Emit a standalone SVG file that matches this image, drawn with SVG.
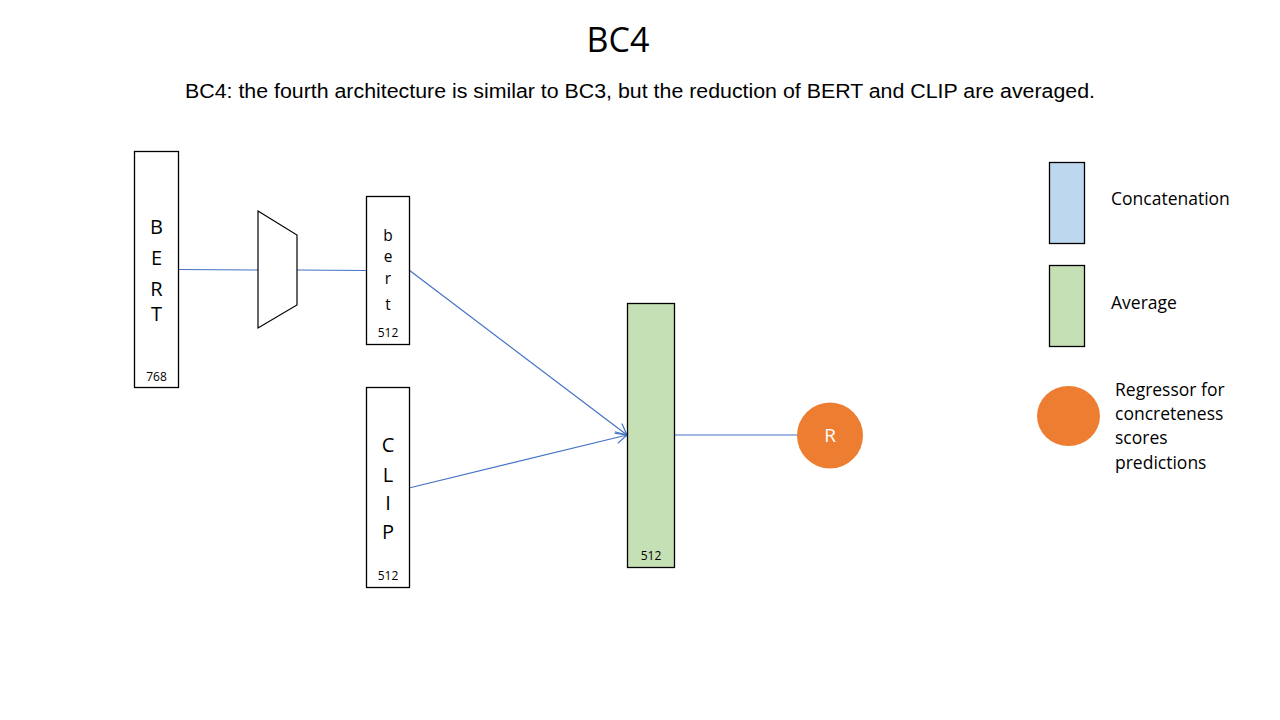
<svg xmlns="http://www.w3.org/2000/svg" width="1280" height="720" viewBox="0 0 1280 720">
<style>
.box{fill:#fff;stroke:#000;stroke-width:1.3}
.avg{fill:#C5E0B4;stroke:#000;stroke-width:1.3}
.cat{fill:#BDD7EE;stroke:#000;stroke-width:1.3}
.t{font-family:"Open Sans","Liberation Sans",sans-serif;fill:#000}
.big{font-size:20px;text-anchor:middle}
.mid{font-size:15.5px;text-anchor:middle}
.small{font-size:12px;text-anchor:middle}
.leg{font-size:17.5px}
.conn{stroke:#4472C4;stroke-width:1.2;fill:none}
</style>
<defs>
<marker id="arr" markerWidth="14" markerHeight="14" refX="12" refY="7" orient="auto" markerUnits="userSpaceOnUse">
<path d="M1,1 L12,7 L1,13" fill="none" stroke="#4472C4" stroke-width="1.2"/>
</marker>
</defs>
<rect width="1280" height="720" fill="#fff"/>
<text x="618" y="52" class="t" font-size="34" text-anchor="middle">BC4</text>
<text x="185" y="98" font-family="'Liberation Sans',Arial,sans-serif" font-size="20" textLength="910" lengthAdjust="spacingAndGlyphs">BC4: the fourth architecture is similar to BC3, but the reduction of BERT and CLIP are averaged.</text>
<g id="connectors">
<line class="conn" x1="178" y1="269.5" x2="258" y2="270"/>
<line class="conn" x1="297" y1="270" x2="366" y2="270.5"/>
<line class="conn" x1="409" y1="270" x2="627" y2="435" marker-end="url(#arr)"/>
<line class="conn" x1="409" y1="488" x2="627" y2="435" marker-end="url(#arr)"/>
<line class="conn" x1="674" y1="435" x2="797" y2="435"/>
</g>
<g id="bert-input">
<rect class="box" x="134.5" y="151.5" width="44" height="236"/>
<text class="t big" x="156.5" y="234">B</text>
<text class="t big" x="156.5" y="265">E</text>
<text class="t big" x="156.5" y="296">R</text>
<text class="t big" x="156.5" y="321">T</text>
<text class="t small" x="156.5" y="381">768</text>
</g>
<g id="reducer">
<polygon points="258,211 297,235 297,305 258,328" fill="#fff" stroke="#000" stroke-width="1.2"/>
</g>
<g id="bert-reduced">
<rect class="box" x="366.5" y="196.5" width="43" height="148"/>
<text class="t mid" x="388" y="241">b</text>
<text class="t mid" x="388" y="262">e</text>
<text class="t mid" x="388" y="284">r</text>
<text class="t mid" x="388" y="310">t</text>
<text class="t small" x="388" y="337">512</text>
</g>
<g id="clip">
<rect class="box" x="366.5" y="387.5" width="43" height="200"/>
<text class="t big" x="388" y="452">C</text>
<text class="t big" x="388" y="482">L</text>
<text class="t big" x="388" y="510">I</text>
<text class="t big" x="388" y="539">P</text>
<text class="t small" x="388" y="580">512</text>
</g>
<g id="average">
<rect class="avg" x="627.5" y="303.5" width="47" height="264"/>
<text class="t small" x="651" y="560">512</text>
</g>
<g id="regressor">
<circle cx="830" cy="435.5" r="33" fill="#ED7D31"/>
<text class="t" x="830" y="442" font-size="19" style="fill:#fff" text-anchor="middle">R</text>
</g>
<g id="legend-concat">
<rect class="cat" x="1049.5" y="162.5" width="35" height="81"/>
<text class="t leg" x="1111" y="205">Concatenation</text>
</g>
<g id="legend-average">
<rect class="avg" x="1049.5" y="265.5" width="35" height="81"/>
<text class="t leg" x="1111" y="309">Average</text>
</g>
<g id="legend-regressor">
<ellipse cx="1068.5" cy="416" rx="31.5" ry="30" fill="#ED7D31"/>
<text class="t leg" x="1115" y="396">Regressor for</text>
<text class="t leg" x="1115" y="420">concreteness</text>
<text class="t leg" x="1115" y="444">scores</text>
<text class="t leg" x="1115" y="469">predictions</text>
</g>
</svg>
